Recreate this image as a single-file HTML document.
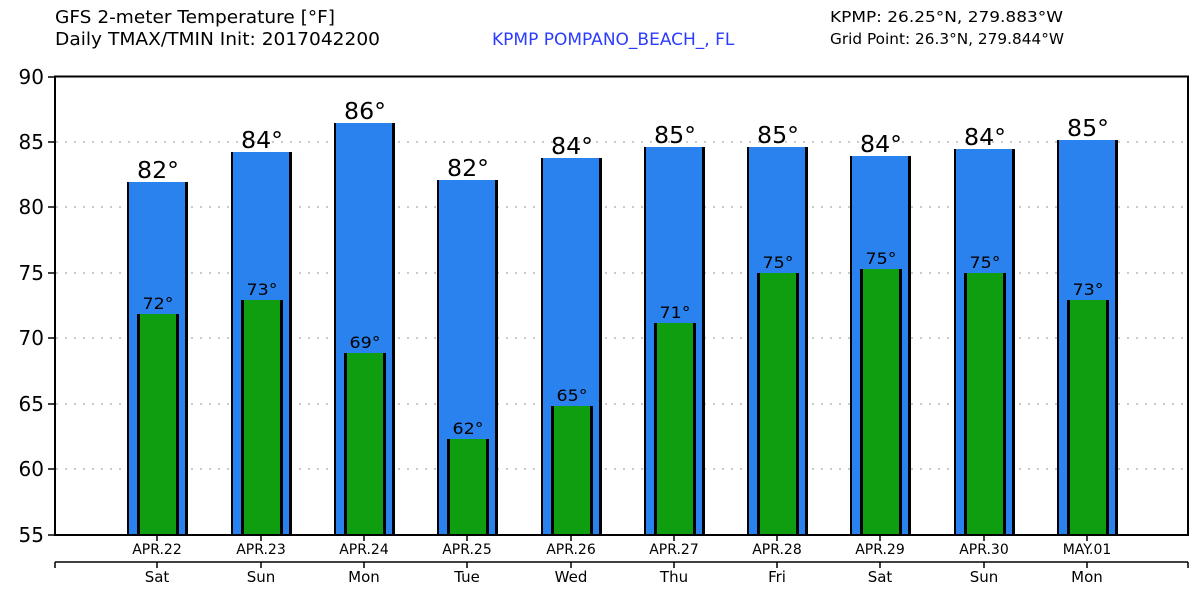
<!DOCTYPE html>
<html><head><meta charset="utf-8"><style>
body{margin:0;background:#fff;}
svg{display:block;font-family:"DejaVu Sans","Liberation Sans",sans-serif;}
</style></head><body>
<svg width="1200" height="600" viewBox="0 0 1200 600" xmlns="http://www.w3.org/2000/svg">
<text x="55" y="23" font-size="18" textLength="280" lengthAdjust="spacingAndGlyphs">GFS 2-meter Temperature [°F]</text>
<text x="55" y="45" font-size="18" textLength="325" lengthAdjust="spacingAndGlyphs">Daily TMAX/TMIN Init: 2017042200</text>
<text x="492" y="45" font-size="17" fill="#2a3cff">KPMP POMPANO_BEACH_, FL</text>
<text x="830" y="22" font-size="15" textLength="233" lengthAdjust="spacingAndGlyphs">KPMP: 26.25°N, 279.883°W</text>
<text x="830" y="44" font-size="15" textLength="234" lengthAdjust="spacingAndGlyphs">Grid Point: 26.3°N, 279.844°W</text>
<g stroke="#aaa" stroke-width="1.3" stroke-dasharray="2,7">
<line x1="56" y1="142" x2="1188" y2="142"/><line x1="56" y1="207" x2="1188" y2="207"/>
<line x1="56" y1="273" x2="1188" y2="273"/><line x1="56" y1="338" x2="1188" y2="338"/>
<line x1="56" y1="404" x2="1188" y2="404"/><line x1="56" y1="469" x2="1188" y2="469"/>
</g>
<g id="bars"></g>
<rect x="55" y="76.5" width="1133" height="458.5" fill="none" stroke="#000" stroke-width="2"/>
<g stroke="#000" stroke-width="1.5">
<line x1="48" y1="77" x2="55" y2="77"/><line x1="48" y1="142" x2="55" y2="142"/><line x1="48" y1="207" x2="55" y2="207"/><line x1="48" y1="273" x2="55" y2="273"/><line x1="48" y1="338" x2="55" y2="338"/><line x1="48" y1="404" x2="55" y2="404"/><line x1="48" y1="469" x2="55" y2="469"/><line x1="48" y1="535" x2="55" y2="535"/>
<line x1="55" y1="562" x2="1188" y2="562"/><line x1="55" y1="562" x2="55" y2="568"/><line x1="1188" y1="562" x2="1188" y2="568"/>
</g>
<g font-size="20" text-anchor="end">
<text x="44" y="84">90</text><text x="44" y="149">85</text><text x="44" y="214">80</text><text x="44" y="280">75</text><text x="44" y="345">70</text><text x="44" y="411">65</text><text x="44" y="476">60</text><text x="44" y="542">55</text>
</g>
<g id="labels" text-anchor="middle"></g>
</svg>
<script>
var xs=[157,261,364,467,571,674,777,880,984,1087];
var mx=[82,84,86,82,84,85,85,84,84,85],mn=[72,73,69,62,65,71,75,75,75,73];
var tt=[182,152,123,180,158,147,147,156,149,140],tn=[314,300,353,439,406,323,273,269,273,300];
var d=["APR.22","APR.23","APR.24","APR.25","APR.26","APR.27","APR.28","APR.29","APR.30","MAY.01"];
var w=["Sat","Sun","Mon","Tue","Wed","Thu","Fri","Sat","Sun","Mon"];
var b="",l="";
for(var i=0;i<10;i++){var x=xs[i];
b+='<rect x="'+(x-30)+'" y="'+tt[i]+'" width="61" height="'+(535-tt[i])+'" fill="#2a82ee"/>';
b+='<rect x="'+(x-30)+'" y="'+tt[i]+'" width="2" height="'+(535-tt[i])+'" fill="#000"/>';
b+='<rect x="'+(x+28)+'" y="'+tt[i]+'" width="3" height="'+(535-tt[i])+'" fill="#000"/>';
b+='<rect x="'+(x-20)+'" y="'+tn[i]+'" width="42" height="'+(535-tn[i])+'" fill="#0f9e10"/>';
b+='<rect x="'+(x-20)+'" y="'+tn[i]+'" width="3" height="'+(535-tn[i])+'" fill="#000"/>';
b+='<rect x="'+(x+19)+'" y="'+tn[i]+'" width="3" height="'+(535-tn[i])+'" fill="#000"/>';
b+='<line x1="'+x+'" y1="535" x2="'+x+'" y2="541" stroke="#000" stroke-width="1.5"/>';
b+='<line x1="'+x+'" y1="562" x2="'+x+'" y2="568" stroke="#000" stroke-width="1.5"/>';
l+='<text x="'+(x+1)+'" y="'+(tt[i]-4)+'" font-size="23" textLength="42" lengthAdjust="spacingAndGlyphs">'+mx[i]+'°</text>';
l+='<text x="'+(x+1)+'" y="'+(tn[i]-5)+'" font-size="16" textLength="31" lengthAdjust="spacingAndGlyphs">'+mn[i]+'°</text>';
l+='<text x="'+x+'" y="554" font-size="14">'+d[i]+'</text>';
l+='<text x="'+x+'" y="582" font-size="15">'+w[i]+'</text>';}
document.getElementById("bars").innerHTML=b;document.getElementById("labels").innerHTML=l;
</script>
</body></html>
